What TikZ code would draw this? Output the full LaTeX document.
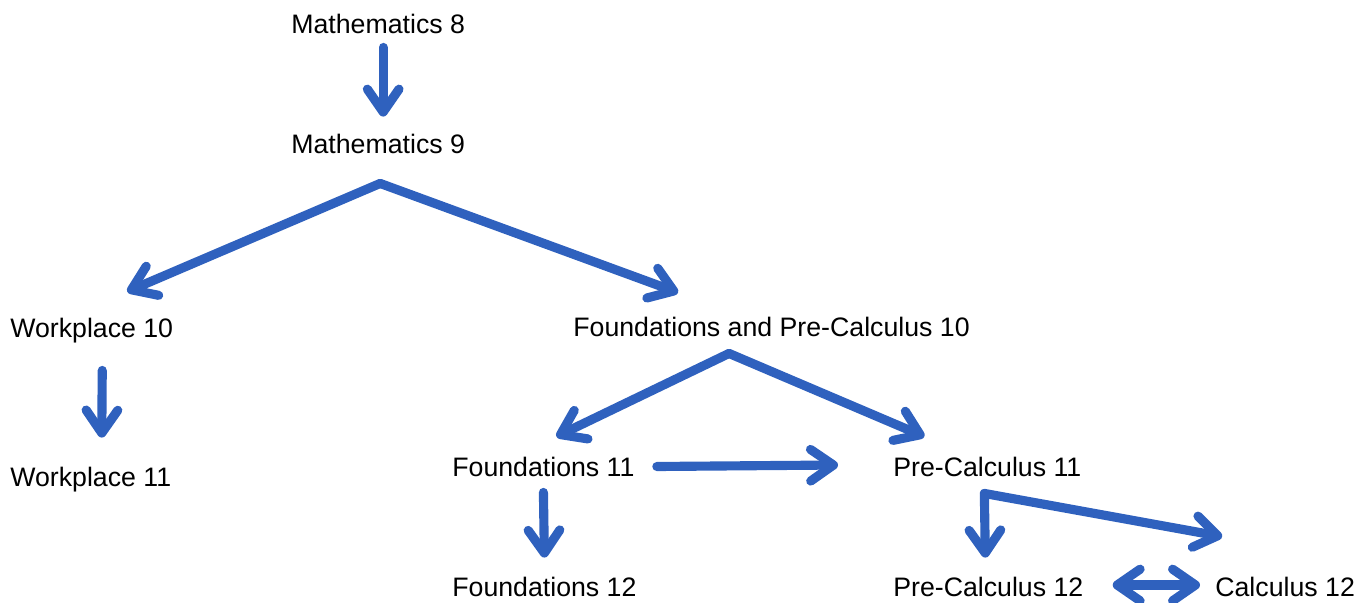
\documentclass[tikz,border=0pt]{standalone}
\usepackage{fontspec}
\setmainfont{Liberation Sans}
\usetikzlibrary{arrows.meta,calc}
\definecolor{flowblue}{RGB}{47,97,190}
\tikzset{
  course/.style={anchor=west, inner sep=0pt, text height=10.9pt, text depth=0pt,
    font=\fontsize{15.2}{18}\selectfont},
  flow/.style={draw=flowblue, line width=5.2pt, line cap=round, line join=round,
    -{Straight Barb[length=13pt,width=18pt,round]}},
  twoway/.style={flow, {Straight Barb[length=13pt,width=18pt,round]}-{Straight Barb[length=13pt,width=18pt,round]}}
}
\begin{document}
\begin{tikzpicture}[x=0.02cm,y=-0.02cm]
\useasboundingbox (0,0) rectangle (1372,602);

% Courses
\node[course] (m8) at (291,24) {Mathematics 8};
\node[course] (m9) at (291,144) {Mathematics 9};
\node[course] (w10) at (10,327.5) {Workplace 10};
\node[course] (fpc10) at (573,327) {Foundations and Pre-Calculus 10};
\node[course] (w11) at (10,476.5) {Workplace 11};
\node[course] (f11) at (452,466.5) {Foundations 11};
\node[course] (pc11) at (893,466.5) {Pre-Calculus 11};
\node[course] (f12) at (452,587) {Foundations 12};
\node[course] (pc12) at (893,587) {Pre-Calculus 12};
\node[course] (c12) at (1215,587) {Calculus 12};

% Grade 8 and 9
\draw[flow] ($(m8.south)+(5,13.5)$) -- ($(m9.north)+(5,-17.5)$);
\coordinate (m9fork) at ($(m9.south)+(2,29.5)$);
\draw[flow] (m9fork) -- ($(w10.north)+(35.5,-26)$);
\draw[flow] (m9fork) -- ($(fpc10.north)+(-93.5,-24.5)$);

% Grade 10 to 11
\draw[flow] ($(w10.south)+(10.5,33)$) -- ($(w11.north)+(11,-29)$);
\coordinate (fpcfork) at ($(fpc10.south)+(-42.5,16.5)$);
\draw[flow] (fpcfork) -- ($(f11.north)+(13,-20)$);
\draw[flow] (fpcfork) -- ($(pc11.north)+(-63,-20)$);
\draw[flow] ($(f11.east)+(22,0)$) -- ($(pc11.west)+(-55,-1.5)$);

% Grade 11 to 12
\draw[flow] ($(f11.south)+(0,16)$) -- ($(f12.north)+(0,-19.5)$);
\coordinate (pcfork) at ($(pc11.south)+(-3,17)$);
\draw[flow] (pcfork) -- ($(pc12.north)+(-3,-19.5)$);
\draw[flow] (pcfork) -- ($(c12.north)+(-63,-40.5)$);
\draw[twoway] ($(pc12.east)+(29,-2)$) -- ($(c12.west)+(-15,-2)$);
\end{tikzpicture}
\end{document}
